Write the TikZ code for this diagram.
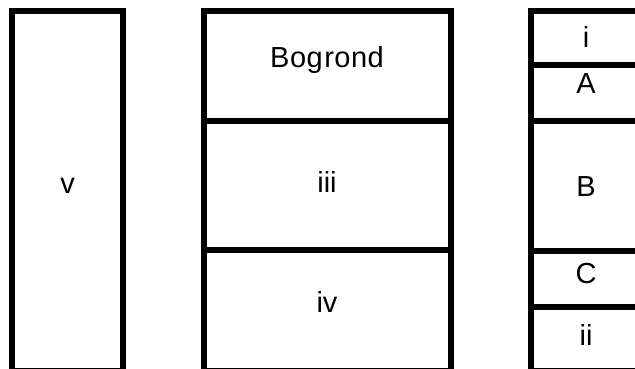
\documentclass[tikz,border=0pt]{standalone}
\usepackage{fontspec}
\setmainfont{Liberation Sans}

\tikzset{
  wall/.style={line width=6pt},
  lbl/.style={anchor=base,inner sep=0pt,font=\fontsize{29}{33}\selectfont}
}

\begin{document}
\begin{tikzpicture}[x=1pt,y=-1pt]
  \useasboundingbox (0,0) rectangle (635,369);

  \coordinate (l1) at (12, 11);
  \coordinate (l2) at (123, 371);
  \coordinate (m1) at (203.5, 11);
  \coordinate (m2) at (451, 371);
  \coordinate (r1) at (531, 11);
  \coordinate (r2) at (641, 371);

  \draw[wall] (l1) rectangle (l2);
  \draw[wall] (m1) rectangle (m2);
  \draw[wall] (r1) rectangle (r2);

  % dividers
  \foreach \y in {121, 250} {
    \draw[wall] (203.5, \y) -- (451, \y);
  }
  \foreach \y in {65.5, 121, 250.5, 306.5} {
    \draw[wall] (531, \y) -- (641, \y);
  }

  \node[lbl] (v)   at (67.5, 193) {v};
  \node[lbl] (bog) at (327, 67)   {B\kern0.5pt o\kern0.5pt g\kern1.5pt r\kern0.5pt o\kern0.5pt n\kern0.5pt d};
  \node[lbl] (iii) at (327, 192)  {iii};
  \node[lbl] (iv)  at (327, 312)  {iv};
  \node[lbl] (i)   at (586, 48)   {i};
  \node[lbl] (a)   at (586, 94)   {A};
  \node[lbl] (b)   at (586, 196)  {B};
  \node[lbl] (c)   at (586, 283)  {C};
  \node[lbl] (ii)  at (586, 345)  {ii};
\end{tikzpicture}
\end{document}
